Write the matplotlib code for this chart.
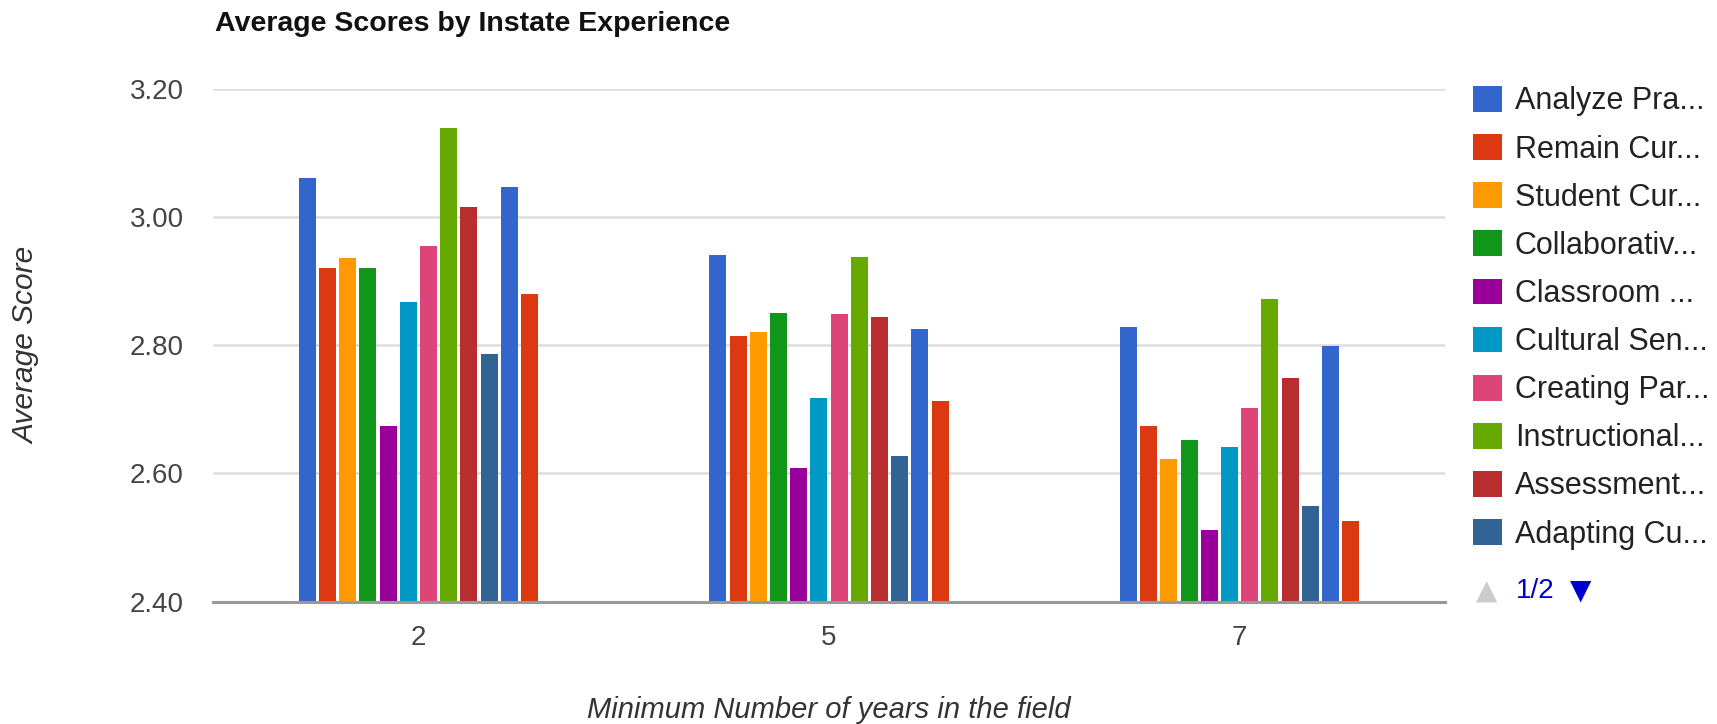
import numpy as np
import matplotlib
matplotlib.use("Agg")
import matplotlib.pyplot as plt

plt.rcParams["font.family"] = ["Liberation Sans", "DejaVu Sans"]

# data
categories = ["2", "5", "7"]
legend_labels = ["Analyze Pra...", "Remain Cur...", "Student Cur...", "Collaborativ...",
                 "Classroom ...", "Cultural Sen...", "Creating Par...", "Instructional...",
                 "Assessment...", "Adapting Cu..."]
analyze = [3.061, 2.941, 2.828]
remain = [2.920, 2.814, 2.674]
student = [2.936, 2.820, 2.622]
collab = [2.920, 2.850, 2.653]
classroom = [2.674, 2.608, 2.512]
cultural = [2.867, 2.717, 2.642]
creating = [2.955, 2.849, 2.702]
instructional = [3.139, 2.938, 2.872]
assessment = [3.015, 2.844, 2.749]
adapting = [2.786, 2.628, 2.549]
series_11 = [3.046, 2.825, 2.799]   # on legend page 2
series_12 = [2.880, 2.713, 2.526]   # on legend page 2

series = [analyze, remain, student, collab, classroom, cultural, creating,
          instructional, assessment, adapting, series_11, series_12]
colors = ["#3366cc", "#dc3912", "#ff9900", "#109618", "#990099", "#0099c6",
          "#dd4477", "#66aa00", "#b82e2e", "#316395", "#3366cc", "#dc3912"]

W, H = 1717, 724
fig = plt.figure(figsize=(W / 100, H / 100), dpi=100)
ax = fig.add_axes([213 / W, 1 - 601.8 / H, (1445 - 213) / W, (601.8 - 88.6) / H])

x = np.arange(len(categories))
slot = (242 / 410) / len(series)
bars = []
for i, (vals, c) in enumerate(zip(series, colors)):
    b = ax.bar(x + (i - (len(series) - 1) / 2) * slot, vals, width=slot * 0.84,
               color=c, zorder=3)
    bars.append(b)

ax.set_xlim(-0.5, len(categories) - 0.5)
ax.set_ylim(2.40, 3.20)
ax.set_yticks([2.40, 2.60, 2.80, 3.00, 3.20])
ax.set_yticklabels(["%.2f" % v for v in ax.get_yticks()])
ax.set_xticks(x)
ax.set_xticklabels(categories)
ax.tick_params(axis="both", length=0, labelsize=20, labelcolor="#444444")
ax.tick_params(axis="y", pad=21)
ax.tick_params(axis="x", pad=17)
ax.grid(axis="y", color="#dddddd", linewidth=1.8, zorder=0)
for s in ["top", "right", "left"]:
    ax.spines[s].set_visible(False)
ax.spines["bottom"].set_color("#999999")
ax.spines["bottom"].set_linewidth(2.2)
ax.spines["bottom"].set_zorder(4)

fig.text(215 / W, 1 - 24 / H, "Average Scores by Instate Experience", fontsize=20.5,
         fontweight="bold", color="#111111", ha="left", va="center")
fig.text(26 / W, 1 - 345 / H, "Average Score", rotation=90, fontsize=21.5,
         style="italic", color="#333333", ha="center", va="center")
fig.text(829 / W, 1 - 710 / H, "Minimum Number of years in the field", fontsize=21,
         style="italic", color="#333333", ha="center", va="center")

leg = ax.legend([b[0] for b in bars[:10]], legend_labels, loc="upper left",
                bbox_to_anchor=(1473 / W, 1 - 86 / H), bbox_transform=fig.transFigure,
                frameon=False, fontsize=22, handlelength=0.95, handleheight=0.92,
                handletextpad=0.42, labelspacing=0.58, borderaxespad=0, borderpad=0)
for t in leg.get_texts():
    t.set_color("#222222")

# legend paging arrows
fig.text(1487 / W, 1 - 591 / H, "\u25b2", fontsize=20, color="#cccccc",
         ha="center", va="center", family="DejaVu Sans")
fig.text(1535 / W, 1 - 591 / H, "1/2", fontsize=20, color="#0000cc",
         ha="center", va="center")
fig.text(1581 / W, 1 - 591 / H, "\u25bc", fontsize=20, color="#0000cc",
         ha="center", va="center", family="DejaVu Sans")

fig.savefig("out.png", dpi=100)
